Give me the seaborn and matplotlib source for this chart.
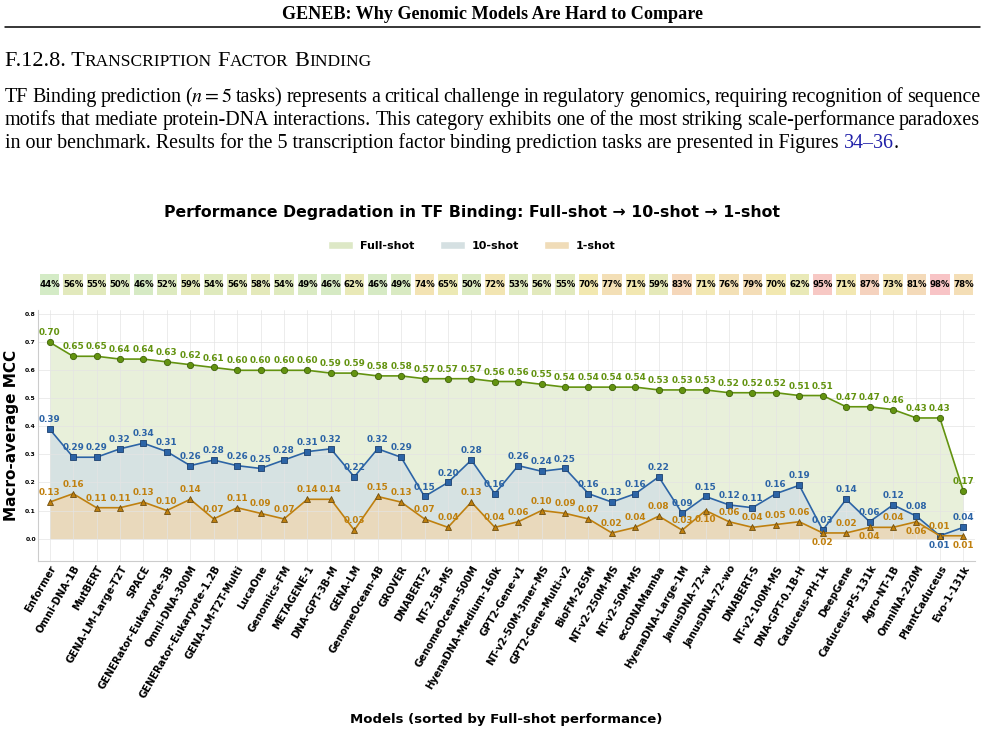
import re
import numpy as np
import pandas as pd
import seaborn as sns
import matplotlib.pyplot as plt
from matplotlib.colors import LinearSegmentedColormap
from matplotlib.patches import Patch
from matplotlib.lines import Line2D

# data (sorted by full-shot MCC)
models = [
    "Enformer", "Omni-DNA-1B", "MutBERT", "GENA-LM-Large-T2T", "SPACE",
    "GENERator-Eukaryote-3B", "Omni-DNA-300M", "GENERator-Eukaryote-1.2B",
    "GENA-LM-T2T-Multi", "LucaOne", "Genomics-FM", "METAGENE-1", "DNA-GPT-3B-M",
    "GENA-LM", "GenomeOcean-4B", "GROVER", "DNABERT-2", "NT-2.5B-MS",
    "GenomeOcean-500M", "HyenaDNA-Medium-160k", "GPT2-Gene-v1", "NT-v2-50M-3mer-MS",
    "GPT2-Gene-Multi-v2", "BioFM-265M", "NT-v2-250M-MS", "NT-v2-50M-MS",
    "eccDNAMamba", "HyenaDNA-Large-1M", "JanusDNA-72-w", "JanusDNA-72-wo",
    "DNABERT-S", "NT-v2-100M-MS", "DNA-GPT-0.1B-H", "Caduceus-PH-1k", "DeepGene",
    "Caduceus-PS-131k", "Agro-NT-1B", "OmniNA-220M", "PlantCaduceus", "Evo-1-131k",
]
full_shot = [0.70, 0.65, 0.65, 0.64, 0.64, 0.63, 0.62, 0.61, 0.60, 0.60,
             0.60, 0.60, 0.59, 0.59, 0.58, 0.58, 0.57, 0.57, 0.57, 0.56,
             0.56, 0.55, 0.54, 0.54, 0.54, 0.54, 0.53, 0.53, 0.53, 0.52,
             0.52, 0.52, 0.51, 0.51, 0.47, 0.47, 0.46, 0.43, 0.43, 0.17]
ten_shot = [0.39, 0.29, 0.29, 0.32, 0.34, 0.31, 0.26, 0.28, 0.26, 0.25,
            0.28, 0.31, 0.32, 0.22, 0.32, 0.29, 0.15, 0.20, 0.28, 0.16,
            0.26, 0.24, 0.25, 0.16, 0.13, 0.16, 0.22, 0.09, 0.15, 0.12,
            0.11, 0.16, 0.19, 0.03, 0.14, 0.06, 0.12, 0.08, 0.01, 0.04]
one_shot = [0.13, 0.16, 0.11, 0.11, 0.13, 0.10, 0.14, 0.07, 0.11, 0.09,
            0.07, 0.14, 0.14, 0.03, 0.15, 0.13, 0.07, 0.04, 0.13, 0.04,
            0.06, 0.10, 0.09, 0.07, 0.02, 0.04, 0.08, 0.03, 0.10, 0.06,
            0.04, 0.05, 0.06, 0.02, 0.02, 0.04, 0.04, 0.06, 0.01, 0.01]
drop_pct = [44, 56, 55, 50, 46, 52, 59, 54, 56, 58, 54, 49, 46, 62, 46, 49, 74, 65, 50, 72,
            53, 56, 55, 70, 77, 71, 59, 83, 71, 76, 79, 70, 62, 95, 71, 87, 73, 81, 98, 78]

df = pd.DataFrame({"x": np.arange(len(models)), "model": models,
                   "full": full_shot, "ten": ten_shot, "one": one_shot})

sns.set_theme(style="whitegrid")
plt.rcParams["font.family"] = ["DejaVu Sans"]
plt.rcParams["mathtext.fontset"] = "stix"
for k in ["text.color", "axes.labelcolor", "xtick.color", "ytick.color"]:
    plt.rcParams[k] = "black"

W, H = 985, 737
fig = plt.figure(figsize=(W / 100, H / 100), dpi=100)
fig.patch.set_facecolor("white")
fig.canvas.draw()
rend = fig.canvas.get_renderer()
SERIF = "Liberation Serif"


def text_w(s, size, **kw):
    t = fig.text(0, 0, s, fontsize=size, family=SERIF, **kw)
    w = t.get_window_extent(rend).width
    t.remove()
    return w


def put(xp, yp, s, size, **kw):
    t = fig.text(xp / W, 1 - yp / H, s, fontsize=size, family=SERIF, va="baseline", **kw)
    return xp + t.get_window_extent(rend).width


# ---- page header ----
hdr = "GENEB: Why Genomic Models Are Hard to Compare"
hs = 12 * 417 / text_w(hdr, 12, fontweight="bold")
fig.text(0.5, 1 - 19 / H, hdr, fontsize=hs, family=SERIF, fontweight="bold",
         ha="center", va="baseline")
fig.add_artist(Line2D([5 / W, 980 / W], [1 - 27 / H] * 2, color="black", lw=1.1))

# ---- section heading in small caps ----
parts = [("F.12.8. T", 1.0), ("RANSCRIPTION", 0.78), (" ", 1.0), ("F", 1.0),
         ("ACTOR", 0.78), (" ", 1.0), ("B", 1.0), ("INDING", 0.78)]
space10 = text_w("a b", 10) - text_w("ab", 10)
tot = sum(space10 if p == " " else text_w(p, 10 * k) for p, k in parts)
big = 10 * 365 / tot
xc = 5
for p, k in parts:
    if p == " ":
        xc += space10 * big / 10
    else:
        xc = put(xc, 66, p, big * k)

# ---- paragraph ----
line1 = ("TF Binding prediction ($n = 5$ tasks) represents a critical challenge in regulatory "
         "genomics, requiring recognition of sequence")
line2 = ("motifs that mediate protein-DNA interactions. This category exhibits one of the most "
         "striking scale-performance paradoxes")
line3a = "in our benchmark. Results for the 5 transcription factor binding prediction tasks are presented in Figures"
ps = 13.5
sp = text_w("a b", ps) - text_w("ab", ps)
w3 = text_w(line3a, ps) + sp + text_w("34–36.", ps)
ps = ps * 895 / w3
sp = text_w("a b", ps) - text_w("ab", ps)

for line, yb in [(line1, 102), (line2, 125)]:
    toks = re.findall(r"\S*\$[^$]*\$\S*|\S+", line)
    ws = [text_w(t, ps) for t in toks]
    gap = (975 - sum(ws)) / (len(toks) - 1)
    xc = 5
    for t, w in zip(toks, ws):
        put(xc, yb, t, ps)
        xc += w + gap
xc = put(5, 148, line3a, ps) + sp
xc = put(xc, 148, "34–36", ps, color="#1f1fa8")
put(xc, 148, ".", ps)

# ---- colours ----
c_full, c_ten, c_one = "#639310", "#2c64a6", "#c0800e"
e_full, e_ten, e_one = "#3f6308", "#1b3f6e", "#6e4e10"
f_full, f_ten, f_one = "#e8f0da", "#d6e2e2", "#e9d9bc"

# ---- main axes ----
ax = fig.add_axes([38 / W, 1 - 561 / H, 937 / W, 251 / H])
ax.fill_between(df["x"], 0, df["full"], color=f_full, lw=0, zorder=1)
ax.fill_between(df["x"], 0, df["ten"], color=f_ten, lw=0, zorder=1)
ax.fill_between(df["x"], 0, df["one"], color=f_one, lw=0, zorder=1)

sns.lineplot(data=df, x="x", y="full", ax=ax, color=c_full, marker="o", markersize=4.5,
             markeredgecolor=e_full, markeredgewidth=0.6, linewidth=1.2, zorder=3)
sns.lineplot(data=df, x="x", y="ten", ax=ax, color=c_ten, marker="s", markersize=4.7,
             markeredgecolor=e_ten, markeredgewidth=0.6, linewidth=1.2, zorder=3)
sns.lineplot(data=df, x="x", y="one", ax=ax, color=c_one, marker="^", markersize=4.7,
             markeredgecolor=e_one, markeredgewidth=0.6, linewidth=1.2, zorder=3)

lab = dict(ha="center", fontsize=6.4, fontweight="bold", textcoords="offset points", zorder=4)
for i, (f, t, o) in enumerate(zip(full_shot, ten_shot, one_shot)):
    ten_below = t <= o
    one_below = (not ten_below) and (t - o) <= 0.0501
    ax.annotate(f"{f:.2f}", (i, f), xytext=(0, 3.5), va="bottom", color=c_full, **lab)
    ax.annotate(f"{t:.2f}", (i, t), xytext=(0, -3.5 if ten_below else 3.5),
                va="top" if ten_below else "bottom", color=c_ten, **lab)
    ax.annotate(f"{o:.2f}", (i, o), xytext=(0, -3.5 if one_below else 3.5),
                va="top" if one_below else "bottom", color=c_one, **lab)

ax.set_xlim(-0.5, len(models) - 0.5)
ax.set_ylim(-0.08, 0.815)
ax.set_yticks(np.arange(0, 0.81, 0.1))
ax.set_yticklabels([f"{v:.1f}" for v in np.arange(0, 0.81, 0.1)],
                   fontsize=4.4, fontweight="bold")
ax.set_xticks(df["x"])
ax.set_xticklabels(models, rotation=60, ha="right", rotation_mode="anchor",
                   fontsize=7.2, fontweight="bold")
ax.tick_params(axis="x", pad=2, length=0)
ax.tick_params(axis="y", pad=1.5, length=0)
ax.set_axisbelow("line")
ax.grid(True, color="#e4e4e4", lw=0.6, alpha=0.8)
ax.set_facecolor("white")
for s in ["top", "right"]:
    ax.spines[s].set_visible(False)
for s in ["left", "bottom"]:
    ax.spines[s].set_color("#cccccc")
    ax.spines[s].set_linewidth(0.8)
ax.set_xlabel("")
ax.set_ylabel("Macro-average MCC", fontsize=11, fontweight="bold", labelpad=4)
fig.text(506 / W, 1 - 720 / H, "Models (sorted by Full-shot performance)",
         ha="center", va="center", fontsize=9.5, fontweight="bold")

# ---- degradation row ----
cmap = LinearSegmentedColormap.from_list(
    "deg", [(0.0, "#cfebc9"), (0.5, "#f2e8b0"), (1.0, "#f8c2c8")])
hax = fig.add_axes([38 / W, 1 - 297 / H, 937 / W, 25 / H])
sns.heatmap(np.array([drop_pct]), ax=hax, cmap=cmap, vmin=40, vmax=100, cbar=False,
            annot=np.array([[f"{p}%" for p in drop_pct]]), fmt="",
            annot_kws={"fontsize": 6.2, "fontweight": "bold", "color": "black"},
            linewidths=1.5, linecolor="white", xticklabels=False, yticklabels=False)

# ---- title and legend ----
fig.text(472 / W, 1 - 213 / H,
         "Performance Degradation in TF Binding: Full-shot → 10-shot → 1-shot",
         ha="center", va="center", fontsize=11.3, fontweight="bold")
handles = [Patch(facecolor="#dde8c6", label="Full-shot"),
           Patch(facecolor="#d5e0e2", label="10-shot"),
           Patch(facecolor="#f0dcb8", label="1-shot")]
fig.legend(handles=handles, loc="center", bbox_to_anchor=(472 / W, 1 - 246 / H), ncol=3,
           frameon=False, prop={"size": 8, "weight": "bold"}, handlelength=2.25,
           handleheight=0.8, handletextpad=0.6, columnspacing=2.3)

fig.savefig("out.png", dpi=100)
